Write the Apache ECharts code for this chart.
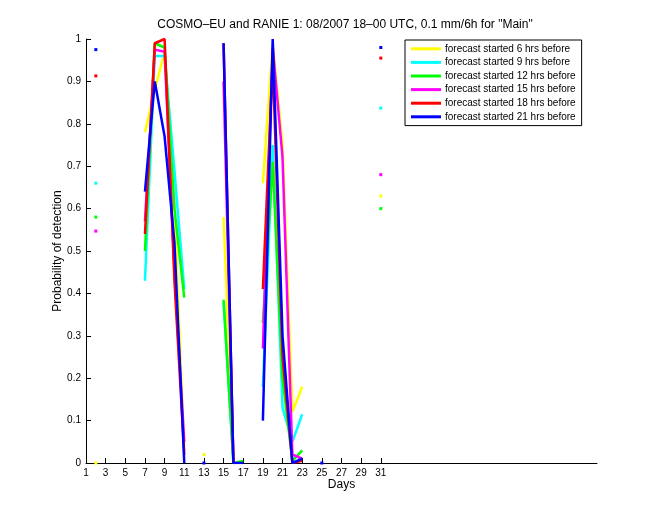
<!DOCTYPE html>
<html>
<head>
<meta charset="utf-8">
<script src="https://cdn.jsdelivr.net/npm/echarts@6/dist/echarts.min.js"></script>
<style>html,body{margin:0;padding:0;background:#fff;}#c{width:660px;height:520px;}</style>
</head>
<body>
<div id="c"></div>
<script>
var days = [1,2,3,4,5,6,7,8,9,10,11,12,13,14,15,16,17,18,19,20,21,22,23,24,25,26,27,28,29,30,31];
var xTickLabels = [1,3,5,7,9,11,13,15,17,19,21,23,25,27,29,31];
var yTickLabels = [0,0.1,0.2,0.3,0.4,0.5,0.6,0.7,0.8,0.9,1];
var seriesNames = ['forecast started 6 hrs before','forecast started 9 hrs before','forecast started 12 hrs before','forecast started 15 hrs before','forecast started 18 hrs before','forecast started 21 hrs before'];
var seriesColors = ['#ffff00','#00ffff','#00ff00','#ff00ff','#ff0000','#0000ff'];
var N = null;
//            1   2    3  4  5  6  7     8     9     10    11    12 13    14 15    16 17    18 19    20    21    22    23    24 25 26 27 28 29 30 31
var fc6  = [N, 0,    N, N, N, N, 0.78, 0.88, 0.97, 0.60, 0.03, N, 0.02, N, 0.58, 0,  N,    N, 0.66, 0.99, 0.75, 0.12, 0.18, N, N, N, N, N, N, N, 0.63];
var fc9  = [N, 0.66, N, N, N, N, 0.43, 0.96, 0.96, 0.69, 0.41, N, N,    N, 0.38, 0,  N,    N, 0.18, 0.75, 0.13, 0.05, 0.115,N, N, N, N, N, N, N, 0.837];
var fc12 = [N, 0.58, N, N, N, N, 0.50, 0.99, 0.98, 0.60, 0.39, N, N,    N, 0.385,0,  0.005,N, 0.33, 0.71, 0.20, 0.005,0.03, N, N, N, N, N, N, N, 0.60];
var fc15 = [N, 0.547,N, N, N, N, 0.57, 0.975,0.97, 0.45, 0.05, N, N,    N, 0.90, 0,  N,    N, 0.27, 0.98, 0.72, 0.02, 0.01, N, N, N, N, N, N, N, 0.68];
var fc18 = [N, 0.913,N, N, N, N, 0.54, 0.99, 1.00, 0.43, 0.02, N, N,    N, 0.99, 0,  N,    N, 0.41, 0.95, 0.25, 0.0,  0.005,N, N, N, N, N, N, N, 0.955];
var fc21 = [N, 0.975,N, N, N, N, 0.64, 0.90, 0.77, 0.52, 0,    N, 0,    N, 0.99, 0,  0,    N, 0.10, 1.00, 0.30, 0,    0.01, N, 0, N, N, N, N, N, 0.98];
var allValues = [fc6, fc9, fc12, fc15, fc18, fc21];

function buildData(arr){
  return days.map(function(d, i){
    var v = arr[i];
    var prev = i > 0 ? arr[i-1] : null;
    var next = i < arr.length - 1 ? arr[i+1] : null;
    var isolated = v != null && prev == null && next == null;
    return { value: [d, v == null ? '-' : v], symbolSize: isolated ? 3 : 0 };
  });
}

var font = 'Liberation Sans, Arial, Helvetica, sans-serif';
var series = allValues.map(function(arr, k){
  return {
    name: seriesNames[k],
    type: 'line',
    data: buildData(arr),
    connectNulls: false,
    showSymbol: true,
    showAllSymbol: true,
    symbol: 'rect',
    itemStyle: { color: seriesColors[k] },
    lineStyle: { color: seriesColors[k], width: 2.5 },
    emphasis: { disabled: true },
    z: 2 + k
  };
});

var chart = echarts.init(document.getElementById('c'), null, { renderer: 'canvas' });
chart.setOption({
  animation: false,
  backgroundColor: '#fff',
  title: {
    text: 'COSMO\u2013EU and RANIE 1: 08/2007 18\u201300 UTC, 0.1 mm/6h for "Main"',
    left: 340, top: 14, textAlign: 'center',
    textStyle: { fontFamily: font, fontSize: 12, fontWeight: 'normal', color: '#000' }
  },
  legend: {
    orient: 'vertical',
    left: 405, top: 40,
    width: 179,
    padding: [3, 6, 3, 6],
    borderColor: '#000', borderWidth: 1,
    backgroundColor: '#fff',
    itemWidth: 30, itemHeight: 3, itemGap: 2,
    icon: 'rect',
    textStyle: { fontFamily: font, fontSize: 10, color: '#000', lineHeight: 11.6, padding: [0,0,0,-1] },
    data: seriesNames
  },
  grid: { left: 86, top: 39, width: 511, height: 424, containLabel: false },
  xAxis: {
    type: 'value', min: 1, max: 53, interval: 2,
    name: 'Days', nameLocation: 'middle', nameGap: 16, nameMoveOverlap: false,
    nameTextStyle: { fontFamily: font, fontSize: 12, color: '#000' },
    axisLine: { show: true, lineStyle: { color: '#000', width: 1 } },
    axisTick: { show: true, inside: true, length: 5, customValues: xTickLabels, lineStyle: { color: '#000' } },
    axisLabel: { customValues: xTickLabels, fontFamily: font, fontSize: 10, color: '#000', margin: 5 },
    splitLine: { show: false }
  },
  yAxis: {
    type: 'value', min: 0, max: 1, interval: 0.1,
    name: 'Probability of detection', nameLocation: 'middle', nameGap: 22, nameRotate: 90, nameMoveOverlap: false,
    nameTextStyle: { fontFamily: font, fontSize: 12, color: '#000' },
    axisLine: { show: true, lineStyle: { color: '#000', width: 1 } },
    axisTick: { show: true, inside: true, length: 5, lineStyle: { color: '#000' } },
    axisLabel: { fontFamily: font, fontSize: 10, color: '#000', margin: 5,
      formatter: function(v){ return String(Math.round(v*10)/10); } },
    splitLine: { show: false }
  },
  series: series
});
</script>
</body>
</html>
